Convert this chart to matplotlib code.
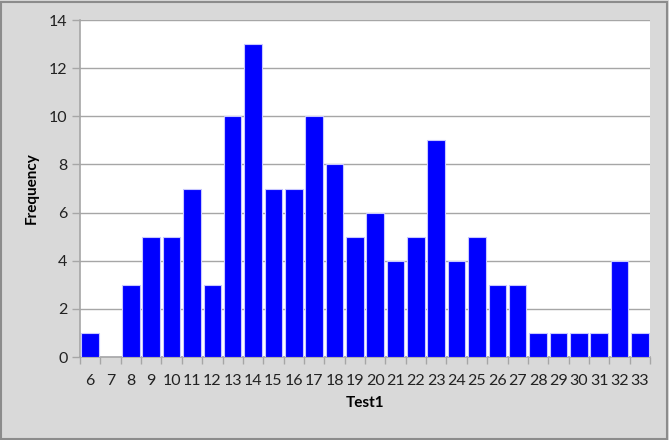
import matplotlib
matplotlib.use("Agg")
import matplotlib.pyplot as plt
import numpy as np
from matplotlib.patches import Rectangle

categories = [str(c) for c in range(6, 34)]
values = [1, 0, 3, 5, 5, 7, 3, 10, 13, 7, 7, 10, 8, 5, 6, 4, 5, 9, 4, 5, 3, 3, 1, 1, 1, 1, 4, 1]
yticks = [0, 2, 4, 6, 8, 10, 12, 14]

plt.rcParams['font.family'] = ['Lato', 'DejaVu Sans']

W, H = 669, 440
fig = plt.figure(figsize=(W / 100, H / 100), dpi=100)
fig.patch.set_facecolor('#d9d9d9')
fig.patches.append(Rectangle((1 / W, 1 / H), 1 - 3 / W, 1 - 3 / H, transform=fig.transFigure,
                             fill=False, edgecolor='#8c8c8c', linewidth=1.5))

ax = fig.add_axes([80 / W, 1 - 357 / H, 570 / W, 337 / H])
ax.set_facecolor('white')
x = np.arange(len(categories))
ax.bar(x, values, width=0.86, color='#0000ff', edgecolor='#c8c8ff', linewidth=0.8, zorder=3)
ax.set_xlim(-0.5, len(categories) - 0.5)
ax.set_ylim(0, 14)
ax.set_yticks(yticks)
ax.set_yticklabels([str(t) for t in yticks])
ax.set_xticks(x)
ax.set_xticklabels(categories)
ax.set_xticks(np.arange(-0.5, len(categories), 1), minor=True)
ax.tick_params(axis='x', which='major', length=0, pad=12, labelsize=11.5, colors='#222222')
ax.tick_params(axis='x', which='minor', length=5, color='#a6a6a6', width=1)
ax.tick_params(axis='y', length=6, color='#a6a6a6', width=1, pad=3, labelsize=11.5, colors='#222222')
ax.grid(axis='y', color='#a6a6a6', linewidth=1, zorder=0)
for s in ['top', 'right']:
    ax.spines[s].set_visible(False)
for s in ['left', 'bottom']:
    ax.spines[s].set_color('#a6a6a6')
    ax.spines[s].set_linewidth(1.2)
ax.set_ylabel('Frequency', fontsize=11, fontweight='bold', labelpad=7)
ax.set_xlabel('Test1', fontsize=11, fontweight='bold', labelpad=6)

fig.savefig('out.png', dpi=100, facecolor=fig.get_facecolor())
